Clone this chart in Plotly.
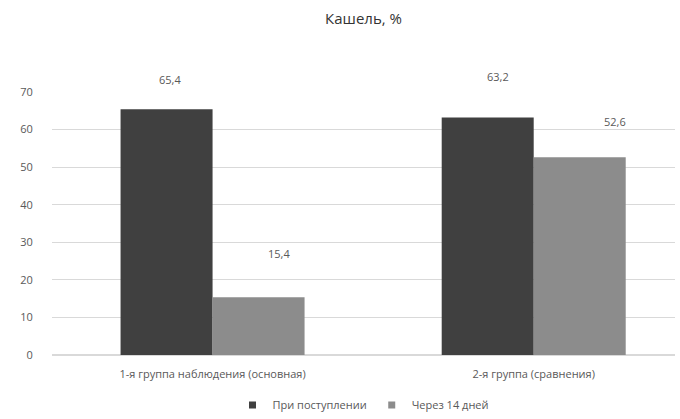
import plotly.graph_objects as go

categories = ["1-я группа наблюдения (основная)", "2-я группа (сравнения)"]
series_names = ["При поступлении", "Через 14 дней"]
values_admission = [65.4, 63.2]
values_14days = [15.4, 52.6]
label_admission = ["65,4", "63,2"]
label_14days = ["15,4", "52,6"]
y_ticks = [0, 10, 20, 30, 40, 50, 60, 70]

colors = ["#404040", "#8c8c8c"]
font_family = "Open Sans, Liberation Sans, sans-serif"

fig = go.Figure()
for name, vals, col in [(series_names[0], values_admission, colors[0]),
                        (series_names[1], values_14days, colors[1])]:
    fig.add_trace(go.Bar(x=categories, y=vals, name=name, showlegend=False,
                         marker=dict(color=col, line=dict(width=0))))
# legend entries with small square symbols
for name, col in zip(series_names, colors):
    fig.add_trace(go.Scatter(x=[None], y=[None], mode="markers", name=name,
                             marker=dict(symbol="square", size=7, color=col)))

# label offsets (pixels) relative to bar tops, mimicking manually placed labels
offsets = {
    0: [(3, 30), (10, 41)],
    1: [(21, 44), (35, 36)],
}
bar_off = 0.143
for si, (vals, labs) in enumerate([(values_admission, label_admission), (values_14days, label_14days)]):
    for ci, (v, t) in enumerate(zip(vals, labs)):
        dx, dy = offsets[si][ci]
        fig.add_annotation(x=ci + (bar_off if si else -bar_off), y=v, text=t,
                           xref="x", yref="y", showarrow=False,
                           xshift=dx, yshift=dy, yanchor="middle",
                           font=dict(size=11, color="#595959", family=font_family))

fig.update_layout(
    width=680, height=419,
    paper_bgcolor="white", plot_bgcolor="white",
    margin=dict(l=52, r=5, t=92, b=64, autoexpand=False),
    barmode="group", bargap=0.427, bargroupgap=0,
    title=dict(text="Кашель, %", x=0.5, xref="paper", y=1 - 19/419, yanchor="middle",
               font=dict(size=15, color="#333333", family=font_family)),
    font=dict(family=font_family, size=11, color="#595959"),
    showlegend=True,
    legend=dict(orientation="h", x=0.5, xanchor="center", y=-0.19, yanchor="middle",
                font=dict(size=11, color="#595959", family=font_family),
                itemwidth=30, traceorder="normal", tracegroupgap=0),
    xaxis=dict(type="category", range=[-0.5, 1.44], showgrid=False, showline=False,
               automargin=False, ticks="outside", ticklen=9, tickcolor="rgba(0,0,0,0)",
               tickfont=dict(size=11, color="#595959")),
    yaxis=dict(range=[0, 70], tickvals=y_ticks, showgrid=True, gridcolor="#d9d9d9",
               gridwidth=1, zeroline=True, zerolinecolor="#d9d9d9", showline=False,
               automargin=False, ticks="outside", ticklen=16, tickcolor="rgba(0,0,0,0)",
               tickfont=dict(size=11, color="#595959")),
)

fig.write_html("out.html", config={"displayModeBar": False},
               post_script="document.body.style.margin='0';document.body.style.overflow='hidden';")
